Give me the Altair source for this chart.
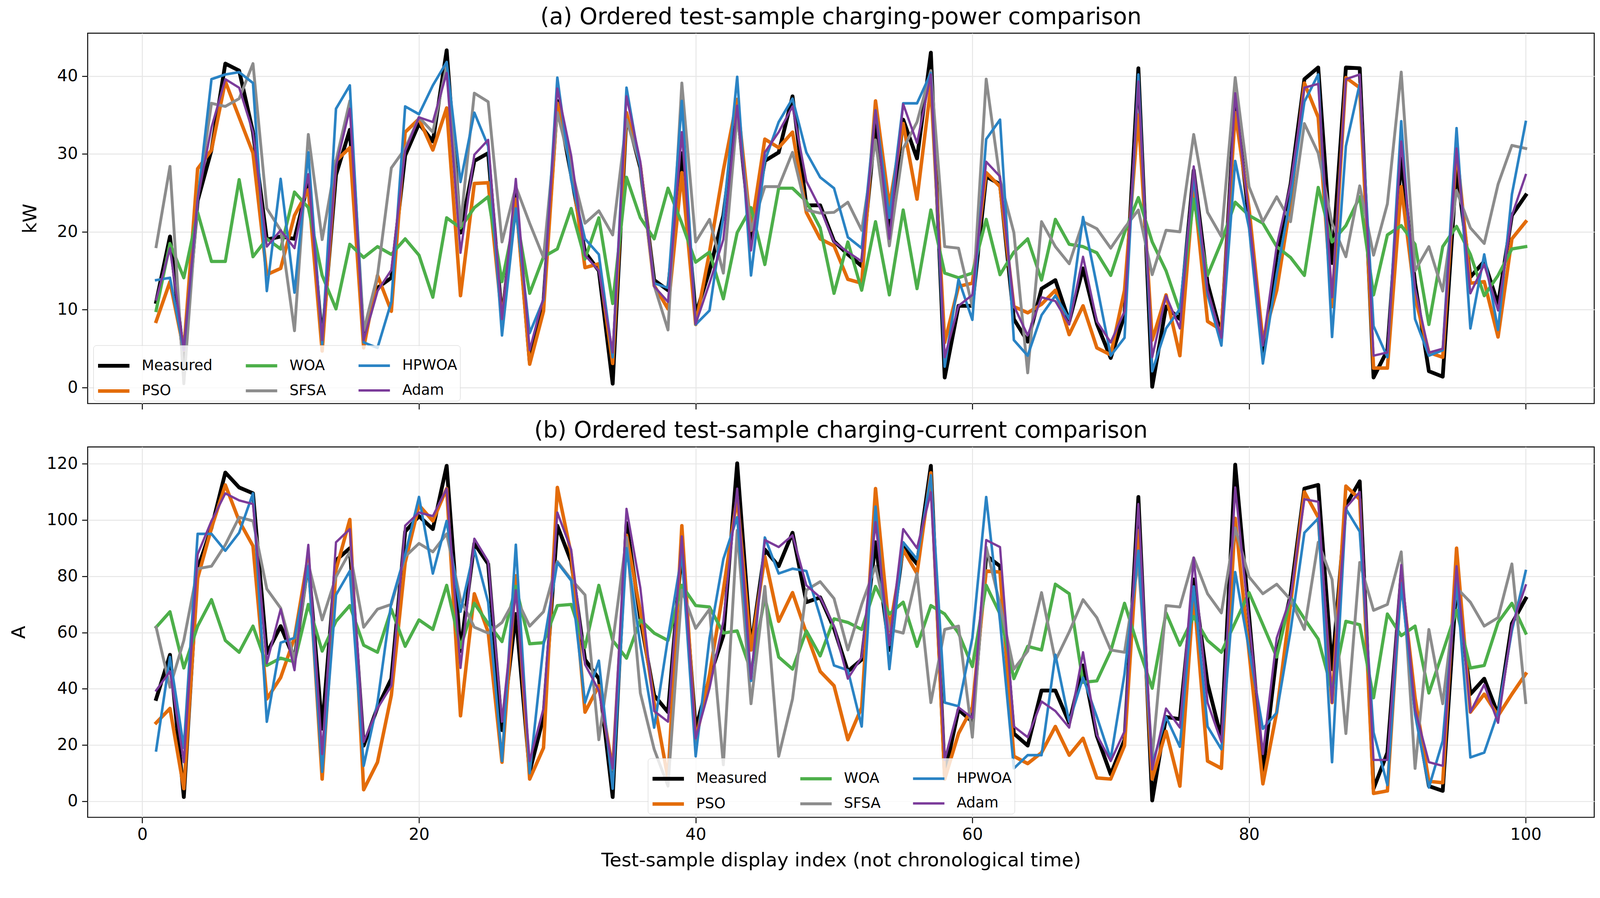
import altair as alt
import pandas as pd

idx = list(range(1, 101))

# ---------------- (a) charging power, kW ----------------
p_measured = [11.0, 19.4, 3.5, 24, 30.5, 41.6, 40.7, 32.8, 19.0, 19.4,
              19.1, 26.4, 6, 27.3, 33.1, 6.4, 12.8, 14.1, 29.8, 33.9,
              31.6, 43.3, 19.9, 29.1, 30.1, 8.8, 24.8, 3.3, 11.0, 36.8,
              27.3, 17.4, 15.0, 0.5, 35.0, 28.2, 13.8, 12.5, 30.1, 9.4,
              15, 22.1, 35.9, 19.0, 29.1, 30.2, 37.4, 23.4, 23.4, 18.8,
              17.1, 15.6, 33.8, 19.6, 34.4, 29.4, 43.0, 1.3, 10.5, 10.5,
              27.1, 26.1, 8.8, 5.9, 12.7, 13.8, 8.5, 15.3, 8.2, 3.8,
              9.3, 41.0, 0.1, 10.4, 8.8, 27.9, 13.4, 6.7, 37.4, 21.5,
              4.5, 17, 26.1, 39.6, 41.1, 16.0, 41.1, 41.0, 1.3, 4.8,
              29.4, 13.4, 2.1, 1.4, 28.2, 14.2, 16.2, 10.7, 22.1, 24.7]
p_pso = [8.5, 13.6, 4.8, 28.1, 30.5, 39.3, 34.7, 30.1, 14.5, 15.3,
         22.1, 25.4, 4.7, 29.1, 30.8, 5.1, 14.4, 9.8, 32.8, 34.5,
         30.5, 35.9, 11.8, 26.2, 26.3, 8.8, 24.2, 3.0, 9.8, 36.5,
         28.5, 15.4, 15.9, 3.1, 35.3, 28.5, 13.1, 10.1, 27.6, 8.1,
         17.4, 27.9, 37.0, 20.2, 31.9, 30.8, 32.8, 22.5, 19.1, 18.2,
         13.9, 13.4, 36.8, 23.3, 33.9, 24.2, 38.7, 5.8, 13.0, 13.4,
         27.6, 25.8, 10.4, 9.6, 10.7, 12.5, 6.8, 10.5, 5.1, 4.2,
         12.5, 35.0, 6.1, 11.9, 4.1, 25.8, 8.5, 7.4, 35.3, 23,
         6.0, 12.5, 23.7, 39.1, 34.7, 10.4, 39.8, 38.5, 2.5, 2.5,
         25.8, 11.6, 4.5, 3.9, 30.7, 13.4, 13.6, 6.5, 19.1, 21.3]
p_woa = [9.9, 18.5, 14.1, 22.5, 16.2, 16.2, 26.7, 16.8, 19.1, 17.8,
         25.1, 23.1, 14.4, 10.1, 18.4, 16.7, 18.1, 17.1, 19.1, 17.0,
         11.6, 21.8, 20.5, 23.1, 24.5, 13.6, 22.4, 12.1, 16.8, 17.8,
         23.0, 16.5, 21.8, 10.8, 27.0, 21.8, 19.1, 25.6, 21.1, 16.1,
         17.4, 11.4, 19.9, 23.1, 15.8, 25.6, 25.6, 23.9, 20.5, 12.1,
         18.7, 12.5, 21.3, 11.9, 22.8, 12.7, 22.8, 14.7, 14.1, 14.7,
         21.6, 14.5, 17.4, 19.1, 13.8, 21.6, 18.4, 18.1, 17.3, 14.4,
         19.9, 24.4, 18.7, 15.0, 9.8, 24.2, 14.4, 18.7, 23.8, 22.1,
         21.1, 18.1, 16.7, 14.4, 25.7, 18.7, 20.8, 24.5, 11.9, 19.6,
         20.8, 18.4, 8.1, 18.1, 20.7, 17.1, 11.8, 14.4, 17.8, 18.1]
p_sfsa = [18.1, 28.4, 0.5, 24.2, 36.5, 36.1, 37.1, 41.6, 23.0, 20.2,
          7.3, 32.5, 19.0, 29.1, 36.8, 7.3, 14.4, 28.2, 30.7, 34.7,
          32.8, 41.4, 20.8, 37.8, 36.7, 18.7, 25.8, 21.1, 16.7, 35.3,
          28.2, 21.1, 22.7, 19.6, 34.4, 28.5, 13.1, 7.4, 39.1, 18.7,
          21.6, 14.7, 35.0, 20.2, 25.8, 25.8, 30.2, 22.8, 22.4, 22.5,
          23.8, 20.2, 31.8, 18.2, 30.7, 34.1, 40.7, 18.1, 17.9, 10.4,
          39.6, 26.7, 19.9, 1.9, 21.3, 18.1, 15.9, 21.3, 20.4, 17.9,
          20.5, 22.8, 14.5, 20.2, 20.0, 32.5, 22.5, 19.4, 39.8, 25.8,
          21.3, 24.5, 21.3, 33.9, 30.1, 21.1, 16.8, 25.9, 17.0, 23.6,
          40.5, 15.0, 18.1, 12.4, 25.3, 20.5, 18.5, 26.1, 31.1, 30.7]
p_hpwoa = [13.8, 14.1, 4.8, 24, 39.6, 40.2, 40.5, 39.1, 12.4, 26.8,
           12.2, 30.2, 5.6, 35.8, 38.8, 5.8, 5.1, 11.0, 36.1, 35.1,
           38.8, 41.8, 26.4, 35.3, 31.0, 6.7, 23.0, 7.0, 11.3, 39.8,
           26.7, 19.1, 17.1, 3.9, 38.5, 28.2, 13.4, 12.8, 36.8, 8.1,
           9.9, 22, 39.9, 14.4, 29.1, 34.1, 37.1, 30.2, 27.0, 25.6,
           19.3, 17.9, 35.6, 21.8, 36.5, 36.5, 40.4, 2.7, 13.9, 8.7,
           31.9, 34.4, 6.1, 4.1, 9.3, 11.8, 8.8, 21.9, 13.1, 4.1,
           6.4, 40.2, 2.1, 7.6, 10.1, 27.0, 11.9, 5.4, 29.1, 20.5,
           3.1, 14.6, 24.4, 36.7, 40.2, 6.5, 31.0, 39.0, 7.9, 3.9,
           34.2, 8.8, 4.1, 4.8, 33.3, 7.6, 17.1, 7.4, 24.8, 34.1]
p_adam = [11.3, 17.9, 4.8, 24.2, 33.4, 39.6, 38.5, 32.8, 18.1, 20.2,
          17.9, 27.4, 6.1, 28.4, 35.8, 6.1, 12.4, 15.1, 30.4, 34.7,
          34.1, 40.4, 17.3, 29.9, 31.8, 8.8, 26.8, 4.8, 11.6, 38.4,
          29.8, 17.0, 15.0, 4.5, 37.4, 29.0, 13.0, 11.0, 32.8, 8.2,
          13.4, 19.0, 36.2, 17.6, 30.2, 32.8, 36.1, 26.5, 23.0, 18.7,
          17.4, 16.2, 35.6, 19.1, 36.4, 31.4, 40.2, 3.9, 10.5, 11.9,
          29.0, 27.1, 10.5, 6.7, 11.6, 11.1, 8.1, 16.8, 8.5, 5.8,
          9.8, 39.3, 3.9, 11.8, 7.6, 28.4, 12.5, 6.4, 37.8, 22,
          5.4, 18.2, 26.1, 38.5, 39.0, 11.6, 39.6, 40.2, 4.1, 4.5,
          31.6, 12.8, 4.5, 5.0, 30.7, 12.1, 15.8, 9.9, 22.1, 27.3]

# ---------------- (b) charging current, A ----------------
c_measured = [36.4, 52.1, 1.5, 82.7, 97.2, 116.9, 111.6, 109.5, 52.6, 62.3,
              50.4, 85.3, 25.8, 85.7, 90.0, 19.8, 33.4, 43.6, 95.9, 101.4,
              96.8, 119.3, 53.4, 91.7, 84.4, 25.3, 66.6, 10.5, 30.0, 98.0,
              85.3, 50.4, 43.6, 1.5, 98.9, 64.9, 37.7, 31.7, 90.0, 25.8,
              44, 58.9, 120.2, 54.7, 89.5, 83.6, 95.5, 70.8, 72.5, 61.5,
              46.2, 50.4, 92.1, 53.8, 90.4, 84.4, 119.3, 9.6, 32.6, 28.3,
              87.4, 83.6, 24.1, 19.8, 39.4, 39.4, 27.9, 48.3, 23.2, 9.6,
              21.9, 108.2, 0.3, 30.0, 29.2, 78.9, 41.9, 22.4, 119.7, 66,
              10.5, 52.1, 73.4, 111.2, 112.5, 47.0, 105.3, 113.8, 4.5, 17.3,
              80.2, 33.4, 5.4, 3.7, 77.6, 38.1, 43.6, 30.9, 63.2, 72.1]
c_pso = [27.9, 33.0, 4.5, 79.3, 97.2, 112.5, 99.7, 90.8, 36.4, 44.0,
         58.1, 87.4, 7.9, 82.3, 100.2, 4.1, 13.9, 37.7, 84.9, 105.3,
         99.7, 111.2, 30.4, 73.8, 60.2, 13.9, 80.2, 7.9, 19.0, 111.6,
         87.8, 31.7, 41.1, 11.3, 94.6, 67.4, 35.1, 8, 98.0, 21.5,
         45, 75.1, 108.2, 53.8, 87.0, 64.0, 74.2, 59.8, 46.2, 41.1,
         21.9, 33.4, 111.2, 60.6, 89.5, 81.0, 116.8, 7.9, 24.1, 33.4,
         81.9, 81.5, 16.0, 13.4, 17.3, 26.6, 16.4, 22.4, 8.3, 7.9,
         19.8, 96.3, 7.9, 24.9, 5.4, 74.2, 14.3, 11.7, 100.6, 53,
         6.2, 31.7, 70.0, 110.0, 101.0, 35.1, 112.1, 107.4, 2.8, 3.7,
         80.2, 36.8, 7.1, 6.6, 90.0, 31.7, 38.1, 30.4, 38.1, 45.3]
c_woa = [61.9, 67.4, 47.4, 62.3, 71.7, 57.2, 53.0, 62.3, 48.3, 50.9,
         49.6, 70.0, 53.4, 64.0, 69.6, 55.5, 53.0, 68.3, 55.1, 64.5,
         61.1, 76.8, 54.7, 70.4, 63.2, 56.8, 76.4, 56.0, 56.4, 69.6,
         70.0, 54.7, 76.8, 57.2, 50.9, 64.5, 59.8, 57.2, 76.8, 69.6,
         69.1, 59.8, 60.6, 46.2, 72.5, 51.3, 47.0, 60.6, 51.7, 64.9,
         63.6, 61.1, 76.4, 66.6, 70.8, 55.1, 69.6, 66.6, 59.8, 47.9,
         76.8, 66.6, 43.6, 55.1, 53.8, 77.2, 73.8, 42.3, 42.8, 53.4,
         70.4, 54.7, 40.2, 67.0, 55.5, 65.7, 57.2, 53.0, 63.6, 74.2,
         62.8, 51.3, 72.5, 64.9, 57.7, 39.4, 64.0, 62.8, 36.8, 66.6,
         58.9, 62.3, 38.5, 53.0, 67.9, 47.4, 48.3, 63.6, 70.4, 59.8]
c_sfsa = [61.9, 40.6, 57.2, 82.7, 83.6, 91.2, 101.0, 99.7, 75.5, 68.7,
          50.4, 84.4, 64.5, 79.8, 88.7, 61.9, 68.3, 70.0, 87.0, 91.7,
          88.7, 95.1, 71.7, 61.9, 59.8, 63.6, 72.5, 62.3, 67.4, 85.3,
          78.9, 73.4, 21.9, 56.4, 93.8, 38.5, 18.5, 5.4, 75.1, 61.5,
          68.3, 13.0, 96.3, 34.7, 76.4, 16.0, 36.4, 75.1, 78.1, 72.1,
          53.8, 70.0, 83.6, 61.1, 59.8, 81.0, 35.1, 61.1, 62.3, 22.8,
          90.4, 70.0, 47.0, 53.4, 74.2, 50.0, 60.2, 71.7, 65.3, 53.8,
          53.0, 85, 15.6, 69.6, 69.1, 86.6, 73.8, 67.0, 97.2, 79.8,
          73.8, 77.2, 71.7, 61.1, 92.1, 78.9, 24.1, 84.9, 67.9, 70.0,
          88.7, 11.7, 61.1, 34.7, 75.9, 70.8, 62.3, 65.3, 84.4, 35.1]
c_hpwoa = [18.1, 51.3, 19.0, 95.1, 95.1, 89.1, 95.5, 109.5, 28.3, 56.4,
           58.1, 83.6, 10.5, 73.4, 81.9, 12.6, 35.1, 70.8, 87.8, 108.2,
           81.0, 99.7, 67.4, 89.5, 70.8, 14.3, 91.2, 10.0, 55.5, 84.9,
           78.5, 35.1, 50.0, 4.5, 90.0, 55.5, 26.2, 58.1, 87.8, 16.0,
           58, 86.1, 101.0, 42.8, 93.8, 81.0, 82.7, 81.9, 65.7, 48.3,
           46.6, 26.6, 104.8, 47.0, 92.1, 86.1, 115.9, 35.1, 33.8, 58.1,
           108.2, 64, 11.7, 16.4, 16.4, 52.1, 28.3, 44.0, 30.0, 15.1,
           45.3, 89.1, 13.0, 30.0, 19.4, 76.4, 26.6, 18.5, 81.5, 54,
           25.8, 31.5, 60.6, 95.5, 100.6, 13.9, 104.0, 95.9, 24.5, 5.8,
           77.6, 30.9, 4.9, 21.5, 78.1, 15.6, 17.3, 31.7, 60.6, 81.9]
c_adam = [39.4, 46.2, 13.9, 87.8, 99.7, 109.5, 107.0, 105.7, 49.1, 68.3,
          46.6, 91.2, 16.8, 92.1, 96.8, 21.1, 33.0, 41.1, 98.0, 102.7,
          101.4, 111.2, 47.4, 93.4, 85.3, 28.3, 75.1, 14.3, 33.0, 102.7,
          89.5, 48.7, 39.4, 11.7, 104.0, 75.9, 32.1, 28.3, 94.2, 22.4,
          40.2, 64.0, 111.2, 43.6, 92.9, 90.4, 94.6, 76.8, 72.5, 62.3,
          43.6, 51.3, 99.3, 55.5, 96.8, 90.0, 109.9, 14.7, 33.4, 29.6,
          92.9, 90.4, 26.6, 22.8, 35.5, 32.1, 26.2, 53.0, 23.6, 14.3,
          24.9, 105.7, 11.3, 33.0, 26.2, 86.6, 35.1, 21.1, 111.6, 64,
          16.8, 58.1, 72.5, 107.4, 106.5, 35.1, 104.4, 110.0, 14.7, 14.7,
          84.0, 32.6, 13.9, 12.6, 83.6, 31.7, 41.5, 27.9, 62.3, 76.8]

series_names = ["Measured", "PSO", "WOA", "SFSA", "HPWOA", "Adam"]
series_colors = ["#000000", "#E36C0A", "#4DAF4A", "#8C8C8C", "#2A83C4", "#7B3B9A"]
series_widths = [10, 6, 6, 6, 6, 6]

power = dict(zip(series_names, [p_measured, p_pso, p_woa, p_sfsa, p_hpwoa, p_adam]))
current = dict(zip(series_names, [c_measured, c_pso, c_woa, c_sfsa, c_hpwoa, c_adam]))

FONT = "DejaVu Sans"
W, H = 3956, 973


def make_panel(values, ydomain, yticks, ytitle, ytitle_x, title, lx, ly, bottom):
    rows = []
    for name in series_names:
        for i, v in zip(idx, values[name]):
            rows.append({"idx": i, "value": v, "series": name})
    df = pd.DataFrame(rows)
    legend = alt.Legend(title=None, orient="none", legendX=lx, legendY=ly,
                        columns=3, symbolType="stroke", symbolSize=6800,
                        labelFont=FONT, labelFontSize=38, labelColor="#000000",
                        labelLimit=600, labelOffset=27, columnPadding=70,
                        rowPadding=-31, padding=7,
                        fillColor="rgba(255,255,255,0.8)",
                        strokeColor="#cccccc", cornerRadius=8,
                        symbolStrokeWidth=6)
    xaxis = alt.Axis(values=[0, 20, 40, 60, 80, 100], labels=bottom,
                     title="Test-sample display index (not chronological time)" if bottom else None,
                     labelPadding=10, titleY=113, titleBaseline="middle",
                     grid=True)
    yaxis = alt.Axis(values=yticks, title=ytitle, titleX=ytitle_x,
                     titleBaseline="middle", labelPadding=11, grid=True)
    layers = []
    for name in series_names:
        layer = alt.Chart(df).transform_filter(
            alt.datum.series == name
        ).mark_line(strokeJoin="round", strokeCap="square").encode(
            x=alt.X("idx:Q", scale=alt.Scale(domain=[-3.95, 104.95], nice=False, zero=False), axis=xaxis),
            y=alt.Y("value:Q", scale=alt.Scale(domain=ydomain, nice=False, zero=False), axis=yaxis),
            color=alt.Color("series:N", scale=alt.Scale(domain=series_names, range=series_colors),
                            legend=legend),
            strokeWidth=alt.StrokeWidth("series:N", scale=alt.Scale(domain=series_names, range=series_widths),
                                        legend=legend),
        )
        layers.append(layer)
    return alt.layer(*layers).properties(
        width=W, height=H,
        title=alt.TitleParams(title, font=FONT, fontSize=60, fontWeight="normal",
                              anchor="middle", color="#000000", offset=11),
    )


top = make_panel(power, [-2.05, 45.5], [0, 10, 20, 30, 40], "kW", -150,
                 "(a) Ordered test-sample charging-power comparison", 15, 820, False)
bottom = make_panel(current, [-5.7, 126.0], [0, 20, 40, 60, 80, 100, 120], "A", -180,
                    "(b) Ordered test-sample charging-current comparison", 1471, 818, True)

chart = alt.vconcat(top, bottom, spacing=22).resolve_scale(
    color="independent", strokeWidth="independent"
).resolve_legend(
    color="independent", strokeWidth="independent"
).properties(
    padding={"left": 15, "top": -24, "right": 5, "bottom": 5},
    background="white",
).configure_view(
    stroke="#000000", strokeWidth=2.5
).configure_axis(
    domain=False, tickColor="#000000", tickWidth=2.5, tickSize=15,
    labelFont=FONT, labelFontSize=43, labelColor="#000000",
    titleFont=FONT, titleFontSize=50, titleFontWeight="normal", titleColor="#000000",
    gridColor="#e6e6e6", gridWidth=2.5,
)

chart.save("out.html", embed_options={"renderer": "svg", "actions": False})
